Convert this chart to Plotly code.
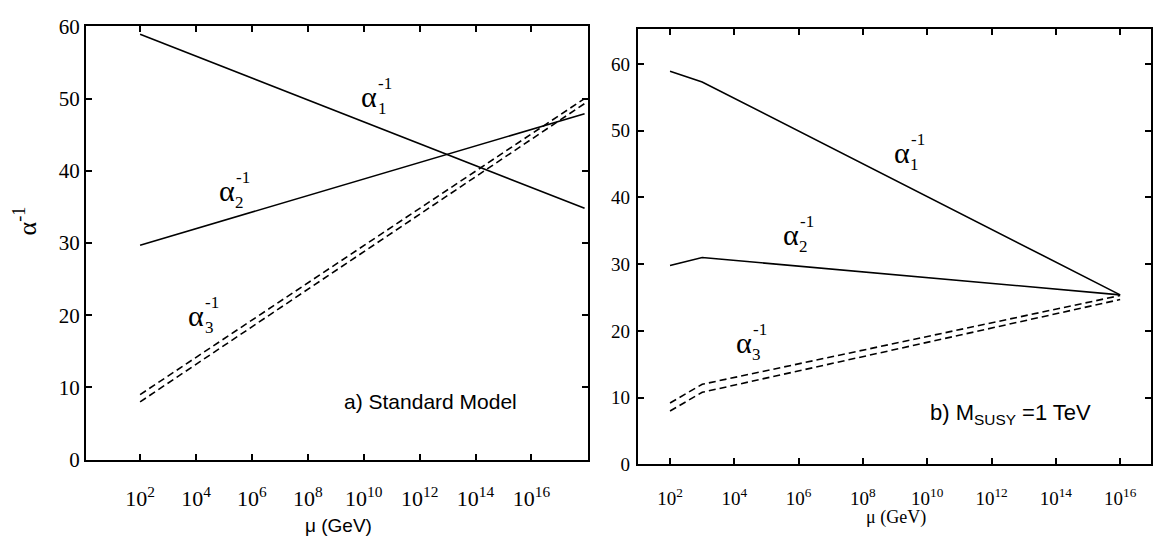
import plotly.graph_objects as go

# ---- data: a) Standard Model ----
mu_sm = [1e2, 10**17.9]
a1_sm = [58.9, 34.8]
a2_sm = [29.7, 47.9]
a3_sm_hi = [9.0, 50.0]
a3_sm_lo = [8.0, 49.3]

# ---- data: b) MSSM, M_SUSY = 1 TeV ----
mu_susy = [1e2, 1e3, 1e16]
a1_susy = [58.9, 57.3, 25.4]
a2_susy = [29.8, 31.0, 25.4]
a3_susy_hi = [9.2, 12.0, 25.3]
a3_susy_lo = [8.0, 10.8, 24.7]

tick_exp = [2, 4, 6, 8, 10, 12, 14, 16]
tick_vals = [10**e for e in tick_exp]
tick_text = [f"10<sup>{e}</sup>" for e in tick_exp]
y_ticks = [0, 10, 20, 30, 40, 50, 60]

SERIF = "Liberation Serif, Times New Roman, serif"
SANS = "Liberation Sans Narrow, Liberation Sans, Arial, sans-serif"

fig = go.Figure()
solid = dict(color="black", width=1.6)
dashed = dict(color="black", width=1.6, dash="7px,4px")

fig.add_trace(go.Scatter(x=mu_sm, y=a1_sm, mode="lines", line=solid, xaxis="x", yaxis="y"))
fig.add_trace(go.Scatter(x=mu_sm, y=a2_sm, mode="lines", line=solid, xaxis="x", yaxis="y"))
fig.add_trace(go.Scatter(x=mu_sm, y=a3_sm_hi, mode="lines", line=dashed, xaxis="x", yaxis="y"))
fig.add_trace(go.Scatter(x=mu_sm, y=a3_sm_lo, mode="lines", line=dashed, xaxis="x", yaxis="y"))

fig.add_trace(go.Scatter(x=mu_susy, y=a1_susy, mode="lines", line=solid, xaxis="x2", yaxis="y2"))
fig.add_trace(go.Scatter(x=mu_susy, y=a2_susy, mode="lines", line=solid, xaxis="x2", yaxis="y2"))
fig.add_trace(go.Scatter(x=mu_susy, y=a3_susy_hi, mode="lines", line=dashed, xaxis="x2", yaxis="y2"))
fig.add_trace(go.Scatter(x=mu_susy, y=a3_susy_lo, mode="lines", line=dashed, xaxis="x2", yaxis="y2"))


def axis_common(size, standoff):
    return dict(showline=True, linecolor="black", linewidth=2, mirror="allticks",
                ticks="inside", ticklen=6, tickwidth=1.5, tickcolor="black",
                showgrid=False, zeroline=False, ticklabelstandoff=standoff,
                tickfont=dict(family=SERIF, size=size, color="black"))


fig.update_layout(
    width=1153, height=551,
    margin=dict(l=0, r=0, t=0, b=0),
    paper_bgcolor="white", plot_bgcolor="white",
    showlegend=False,
    xaxis=dict(type="log", domain=[0.0746, 0.5108], range=[0.06, 18.02],
               tickvals=tick_vals, ticktext=tick_text, anchor="y", **axis_common(22, 18)),
    yaxis=dict(domain=[0.1506, 0.9728], range=[0, 60], tickvals=y_ticks,
               anchor="x", **axis_common(21, 0)),
    xaxis2=dict(type="log", domain=[0.5542, 1.0], range=[1.0, 16.96],
                tickvals=tick_vals, ticktext=tick_text, anchor="y2", **axis_common(19, 16)),
    yaxis2=dict(domain=[0.1416, 0.9673], range=[0, 65.2], tickvals=y_ticks,
                anchor="x2", **axis_common(19, 2)),
)


def alpha_label(xr, yr, lx, ly, idx):
    base = dict(xref=xr, yref=yr, x=lx, y=ly, showarrow=False,
                xanchor="center", yanchor="middle")
    fig.add_annotation(text="α", font=dict(family=SERIF, size=30, color="black"), **base)
    fig.add_annotation(text="-1", xshift=16, yshift=13,
                       font=dict(family=SERIF, size=17, color="black"), **base)
    fig.add_annotation(text=str(idx), xshift=13, yshift=-12,
                       font=dict(family=SERIF, size=17, color="black"), **base)


alpha_label("x", "y", 10.2, 50.3, 1)
alpha_label("x", "y", 5.1, 37.2, 2)
alpha_label("x", "y", 4.0, 19.9, 3)
alpha_label("x2", "y2", 9.2, 46.7, 1)
alpha_label("x2", "y2", 5.76, 34.4, 2)
alpha_label("x2", "y2", 4.3, 18.3, 3)

fig.add_annotation(xref="x", yref="y", x=12.4, y=8.0, text="a) Standard Model",
                   xanchor="center", yanchor="middle",
                   showarrow=False, font=dict(family=SANS, size=21, color="black"))
fig.add_annotation(xref="x2", yref="y2", x=12.6, y=7.6, text="b) M<sub>SUSY</sub> =1 TeV",
                   xanchor="center", yanchor="middle",
                   showarrow=False, font=dict(family=SANS, size=22, color="black"))

fig.add_annotation(xref="paper", yref="paper", x=26 / 1153, y=1 - 218 / 551,
                   text="α<sup>-1</sup>", textangle=-90, showarrow=False,
                   xanchor="center", yanchor="middle",
                   font=dict(family=SERIF, size=26, color="black"))
fig.add_annotation(xref="paper", yref="paper", x=339 / 1153, y=1 - 537 / 551,
                   text="μ (GeV)", showarrow=False, xanchor="center", yanchor="middle",
                   font=dict(family=SANS, size=19, color="black"))
fig.add_annotation(xref="paper", yref="paper", x=898 / 1153, y=1 - 528 / 551,
                   text="μ (GeV)", showarrow=False, xanchor="center", yanchor="middle",
                   font=dict(family=SERIF, size=18, color="black"))

fig.write_html("out.html")
